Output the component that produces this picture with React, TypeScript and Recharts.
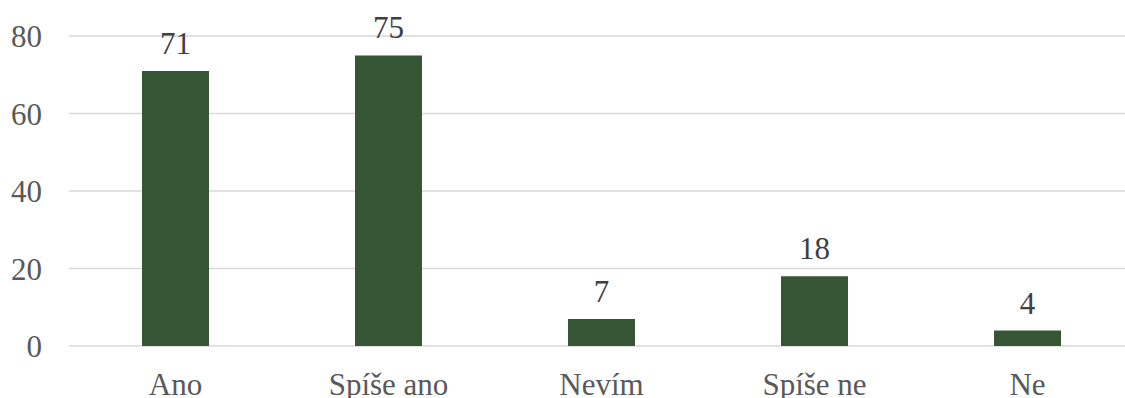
import React from "react";
import { BarChart, Bar, XAxis, YAxis, CartesianGrid, LabelList } from "recharts";

const categories = ["Ano", "Spíše ano", "Nevím", "Spíše ne", "Ne"];
const values = [71, 75, 7, 18, 4];
const yTicks = [0, 20, 40, 60, 80];

const data = categories.map((name, i) => ({ name, value: values[i] }));

const FONT = "'Liberation Serif', 'Times New Roman', serif";

export default function App() {
  return (
    <div
      style={{
        position: "absolute",
        left: 0,
        top: 0,
        width: 1125,
        height: 398,
        overflow: "hidden",
        background: "#ffffff",
        fontFamily: FONT,
      }}
    >
      <BarChart
        width={1140}
        height={398}
        data={data}
        margin={{ top: 36, right: 6, bottom: 0, left: 0 }}
      >
        <CartesianGrid vertical={false} stroke="#d9d9d9" strokeWidth={1.5} />
        <XAxis
          dataKey="name"
          axisLine={false}
          tickLine={false}
          tickSize={0}
          tickMargin={27}
          height={52}
          interval={0}
          tick={{ fill: "#595959", fontSize: 31, fontFamily: FONT }}
        />
        <YAxis
          domain={[0, 80]}
          ticks={yTicks}
          axisLine={false}
          tickLine={false}
          tickSize={0}
          tickMargin={27}
          width={69}
          tick={{ fill: "#595959", fontSize: 31, fontFamily: FONT }}
        />
        <Bar dataKey="value" fill="#365535" barSize={67} isAnimationActive={false}>
          <LabelList
            dataKey="value"
            position="top"
            offset={17}
            fill="#404040"
            fontSize={31}
            fontFamily={FONT}
          />
        </Bar>
      </BarChart>
    </div>
  );
}
